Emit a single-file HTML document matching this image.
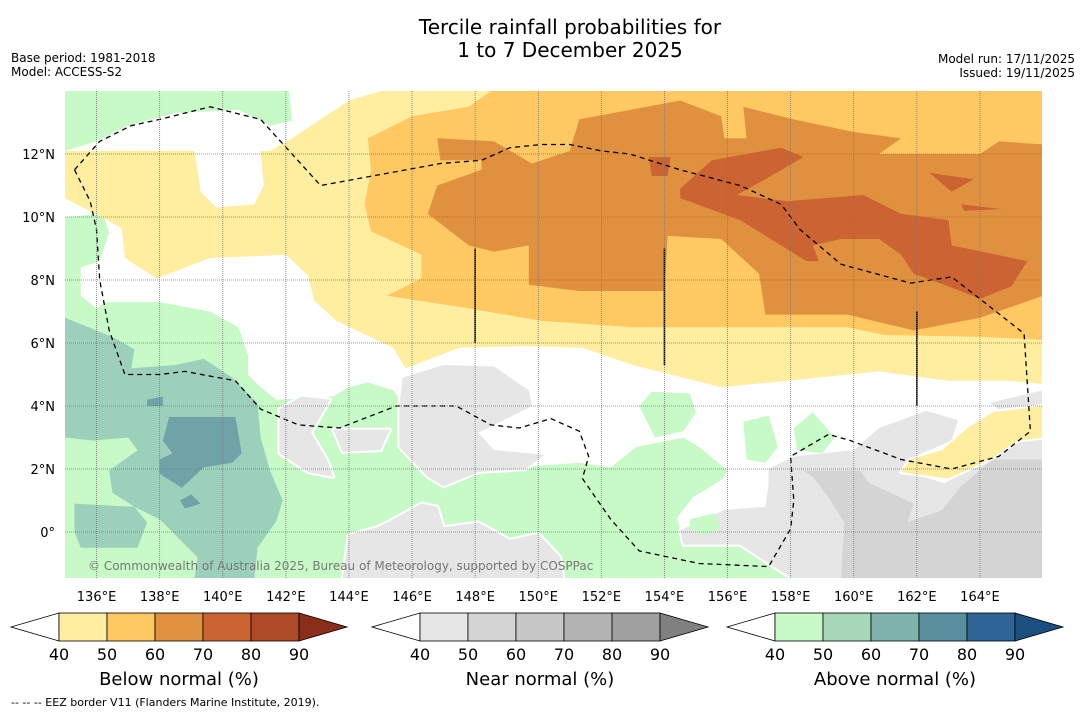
<!DOCTYPE html>
<html><head><meta charset="utf-8"><style>
body{margin:0;background:#fff;}
svg{display:block;font-family:"DejaVu Sans","Liberation Sans",sans-serif;}
</style></head><body>
<svg id="map" width="1085" height="713" viewBox="0 0 1085 713" xmlns="http://www.w3.org/2000/svg">
<rect width="1085" height="713" fill="#fff"/>
<text x="570" y="34" font-size="20" text-anchor="middle">Tercile rainfall probabilities for</text>
<text x="570" y="57" font-size="20" text-anchor="middle">1 to 7 December 2025</text>
<text x="11" y="62" font-size="12">Base period: 1981-2018</text>
<text x="11" y="76" font-size="12">Model: ACCESS-S2</text>
<text x="1075" y="63" font-size="12" text-anchor="end">Model run: 17/11/2025</text>
<text x="1075" y="77" font-size="12" text-anchor="end">Issued: 19/11/2025</text>
<defs><clipPath id="mc"><rect x="65" y="91" width="977" height="487"/></clipPath></defs>
<g id="layers" clip-path="url(#mc)"></g>
<g id="grid"></g>
<g id="labels"></g>
<text x="88" y="570" font-size="12" fill="#777">© Commonwealth of Australia 2025, Bureau of Meteorology, supported by COSPPac</text>
<g id="bars"></g>
<text x="11" y="706" font-size="11">--  --  -- EEZ border V11 (Flanders Marine Institute, 2019).</text>
</svg>
<script>
const lonTicks=[136,138,140,142,144,146,148,150,152,154,156,158,160,162,164];
const latTicks=[0,2,4,6,8,10,12];
const levels=[40,50,60,70,80,90];
const belowColors=["#ffeda0","#fec862","#e0913f","#cc6332","#ae4a25","#8a2e1a"];
const nearColors=["#e6e6e6","#d4d4d4","#c6c6c6","#b3b3b3","#a0a0a0","#808080"];
const aboveColors=["#c8fac8","#a6d7b8","#7fb4ae","#5a8fa0","#2e6496","#1a4f80"];
const mapTeal=["#9dd0bb","#6fa3a8"];
// regions as [lon,lat] polygons
const greenTop=[[135,14],[142.1,14],[142.2,13.05],[141.5,12.9],[140.5,13.4],[138.5,13.3],[137,12.9],[136,12.4],[135,12.1]];
const greenLow=[[135,10],[136.2,10.1],[136.4,9.5],[136.1,8.6],[135.5,8.4],[135.5,7.5],[136,7.1],[136.3,7.3],[138,7.3],[139.6,7],[140.5,6.5],[140.8,5.6],[140.8,5],[141.2,4.6],[141.7,4.2],[143.5,4.3],[144,4.6],[144.6,4.75],[145.4,4.5],[145.7,4.1],[145.6,2.7],[146.5,1.75],[147.7,1.95],[148.6,2.0],[151.3,2.2],[152.3,2.05],[153.1,2.7],[154.6,3.0],[155.1,2.7],[156,1.95],[155.8,1.65],[154.9,1.1],[154.4,0.45],[154.6,-0.35],[156.4,-0.35],[157.3,-0.95],[158.1,-1.5],[135,-1.5]];
const grayA=[[141.8,3.9],[142.5,4.3],[143.4,4.2],[142.8,3.15],[143.3,2.3],[143.5,1.75],[142.7,1.9],[141.8,2.5]];
const grayB=[[143.5,3.25],[145.3,3.25],[145,2.6],[143.8,2.55]];
const grayC=[[145.7,4.9],[147,5.3],[148.6,5.25],[149.7,4.5],[149.8,4.0],[148.1,3.15],[148.6,2.6],[150.2,2.45],[149.6,2.0],[148.1,1.9],[147,1.45],[146.5,1.75],[145.6,2.7],[145.6,4.0]];
const grayD=[[145.3,0.35],[146.3,0.9],[146.8,0.8],[147,0.15],[148.1,0.3],[149.1,-0.25],[150,-0.05],[150.7,-0.8],[150.8,-1.5],[143.8,-1.5],[144,-0.1],[144.9,0.15]];
const grayRight=[[157.3,2.0],[158.1,2.4],[160,2.6],[160.8,3.3],[162.3,3.85],[163.3,3.55],[163.1,2.9],[161.7,2.3],[161.5,1.95],[162.9,1.55],[164.4,2.7],[166,3.0],[166,-1.5],[158.1,-1.5],[157.3,-1.0],[156.4,-0.4],[154.6,-0.4],[154.5,0.05],[155.9,0.7],[157.2,0.8],[157.3,1.5]];
const grayRightUp=[[164.3,4.1],[166,4.5],[166,4.05],[164.6,3.9]];
const grayRightDark=[[158.4,1.95],[160.2,1.95],[160.5,1.55],[161.9,0.9],[161.7,0.3],[162.8,0.7],[163.4,1.45],[164.4,2.3],[166,2.3],[166,-1.5],[159.6,-1.5],[159.7,0.3],[159.2,1.1],[158.7,1.75]];
const greenP1=[[153.2,4.0],[153.6,4.45],[154.8,4.4],[155,3.8],[154.6,3.2],[153.7,3.0]];
const greenP2=[[156.5,3.5],[157.3,3.7],[157.6,2.7],[157.2,2.2],[156.6,2.3]];
const greenP3=[[158.1,3.3],[158.7,3.8],[159.4,3.0],[159,2.5],[158.2,2.6]];
const greenP4=[[154.8,0.4],[155.6,0.6],[155.8,0.1],[155.2,-0.1],[154.8,0.1]];
const tealLight=[[135,6.8],[136.5,6.2],[137.2,5.8],[137.1,5.2],[138.5,5.3],[139.4,5.5],[140.3,4.9],[141.1,4.1],[141.2,3.0],[141.5,1.95],[141.9,1.0],[141.7,0.35],[141.1,-0.5],[141,-1.5],[139.1,-1.5],[139.2,-0.8],[138,0.4],[137.2,0.8],[136.5,1.25],[136.4,1.95],[137.3,2.6],[137,3.0],[135.9,2.9],[135,3.0]];
const tealLow=[[135.3,0.9],[137.2,0.8],[137.6,0.3],[137.3,-0.5],[135.5,-0.5],[135.3,0]];
const tealDark=[[138.3,3.65],[140.4,3.65],[140.6,2.5],[140.3,2.2],[139.4,2.05],[138.7,1.4],[138,1.85],[138,2.3],[138.4,2.5],[138.1,2.9]];
const tealDark2=[[138.65,1.0],[139,1.2],[139.3,0.9],[138.8,0.75]];
const tealDark3=[[137.6,4.2],[138.1,4.3],[138.1,4.0],[137.6,4.0]];
const yellowBand=[[135,12.1],[141.5,12.1],[142.2,12.5],[144,13.7],[145,14],[166,14],[166,4.7],[164.9,4.8],[163,4.8],[160.8,5.1],[157.9,4.8],[155.8,4.6],[153,5.3],[151.4,5.85],[149.6,5.9],[147.5,5.85],[145.8,5.2],[145.4,5.85],[143.6,6.7],[142.9,7.35],[142.7,8.15],[142,8.8],[139.6,8.7],[137.9,8.05],[136.9,8.7],[136.8,9.65],[135,10.6]];
const whiteHoleYellow=[[139.1,12.1],[141.2,12.1],[141.3,11],[141,10.4],[139.8,10.3],[139.3,10.8]];
const yellowRight=[[161.5,1.9],[163,1.7],[164.3,2.3],[165.2,2.9],[166,3.0],[166,4.0],[164.4,3.8],[163.6,3.3],[162.8,2.6],[161.8,2.3]];
const orange=[[144.6,12.5],[146,13.2],[147.8,13.5],[148.5,14],[166,14],[166,6.1],[164,6.2],[161,6.25],[159.8,6.5],[157.2,6.5],[153,6.5],[150.1,6.7],[147.8,7.1],[145.2,7.5],[146.3,8.05],[146.3,8.8],[144.7,9.55],[144.5,10.4],[144.7,11.5]];
const darkOrange=[[146.8,12.5],[148.6,12.4],[149.8,11.7],[151,12.1],[151.3,13.1],[154.5,13.7],[155.8,13.2],[155.9,12.5],[156.6,12.5],[156.5,13.5],[158.1,13.1],[160,12.7],[161.5,12.5],[160.8,12],[164,12],[164.6,12.4],[166,12.3],[166,7.5],[164,6.8],[161.9,6.4],[159.8,6.9],[157.2,6.9],[157,8.2],[155.8,9.3],[154.1,9.4],[154,7.65],[151.3,7.65],[149.7,7.85],[149.7,9.1],[148.6,8.9],[147.8,9.1],[146.5,10.1],[146.8,11.0],[148.2,11.5],[148.2,11.8],[146.9,11.8]];
const redOrange=[[154.5,10.9],[155.5,11.8],[157.7,12.2],[158.4,11.9],[157.2,11.2],[156.3,10.7],[157.9,10.5],[160.3,10.7],[161.5,10.1],[163,9.9],[163.1,9.1],[165.5,8.6],[165,7.8],[164,7.4],[163,7.8],[161.9,8.2],[161.5,8.8],[160.8,9.3],[159.6,9.3],[158.7,9.1],[158.9,8.6],[158.5,8.6],[157.7,9.1],[156.4,9.9],[154.5,10.6]];
const redBlob2=[[162.4,11.4],[163.8,11.2],[163.1,10.8]];
const redBlob3=[[153.5,11.9],[154.2,11.9],[154.1,11.3],[153.6,11.3]];
const redBlob4=[[163.4,10.4],[164.7,10.25],[163.5,10.2]];
const eez=[[135.3,11.5],[136.1,12.4],[137.1,12.9],[138,13.1],[139.6,13.5],[141.2,13.1],[143.1,11],[146.9,11.7],[148.2,11.8],[149.1,12.2],[150.1,12.3],[151,12.3],[152,12.1],[152.9,12],[154.5,11.5],[156.4,11],[157.7,10.4],[158.3,9.6],[159.6,8.5],[161.8,7.9],[163.1,8.1],[164,7.4],[165.4,6.3],[165.6,3.2],[164.6,2.4],[163.1,2],[161.5,2.3],[159.9,2.9],[159.2,3.1],[158,2.4],[158.1,1],[158,0.1],[157.3,-1.1],[155.1,-1],[153.2,-0.6],[152.3,0.4],[151.4,1.7],[151.6,2.4],[151.3,3.2],[150.4,3.6],[149.4,3.3],[148.5,3.4],[147.4,4],[145.5,4],[143.7,3.3],[142.4,3.4],[141.2,3.9],[140.4,4.8],[138.8,5.1],[138,5],[136.9,5],[136.4,6.4],[136.1,8],[136,9.6],[135.8,10.5],[135.3,11.5]];
const boundaryLines=[[148,6,9],[154,5.3,9],[162,4,7]];

const X=lon=>65+(lon-135)*31.55;
const Y=lat=>91+(14-lat)*31.5;
const NS="http://www.w3.org/2000/svg";
function mk(tag,attrs,parent){const e=document.createElementNS(NS,tag);for(const k in attrs)e.setAttribute(k,attrs[k]);parent.appendChild(e);return e;}
const pts=a=>a.map(p=>X(p[0]).toFixed(1)+","+Y(p[1]).toFixed(1)).join(" ");
const L=document.getElementById("layers");
const order=[
 [greenTop,aboveColors[0],"green-top",0],[greenLow,aboveColors[0],"green-lower",0],
 [grayA,nearColors[0],"gray-area",1],[grayB,nearColors[0],"gray-area",1],[grayC,nearColors[0],"gray-area",1],[grayD,nearColors[0],"gray-area",1],
 [grayRight,nearColors[0],"gray-right",1],[grayRightUp,nearColors[0],"gray-right-upper",0],[grayRightDark,nearColors[1],"gray-right-dark",0],
 [greenP1,aboveColors[0],"green-patch",0],[greenP2,aboveColors[0],"green-patch",0],[greenP3,aboveColors[0],"green-patch",0],[greenP4,aboveColors[0],"green-patch",0],
 [tealLight,mapTeal[0],"teal-area",0],[tealLow,mapTeal[0],"teal-area",0],[tealDark,mapTeal[1],"teal-dark-area",0],[tealDark2,mapTeal[1],"teal-dark-area",0],[tealDark3,mapTeal[1],"teal-dark-area",0],
 [yellowBand,belowColors[0],"yellow-band",0],[whiteHoleYellow,"#fff","white-area",0],[yellowRight,belowColors[0],"yellow-right",1],
 [orange,belowColors[1],"orange-area",0],[darkOrange,belowColors[2],"dark-orange-area",0],
 [redOrange,belowColors[3],"red-orange-area",0],[redBlob2,belowColors[3],"red-orange-blob",0],[redBlob3,belowColors[3],"red-orange-blob",0],[redBlob4,belowColors[3],"red-orange-blob",0]];
order.forEach(o=>{
  const a={points:pts(o[0]),fill:o[1]};
  if(o[3]){a.stroke="#fff";a["stroke-width"]=4;a["stroke-linejoin"]="round";a["paint-order"]="stroke";}
  const p=mk("polygon",a,L);
  
  
});
boundaryLines.forEach(b=>{
  const l=mk("line",{x1:X(b[0]),x2:X(b[0]),y1:Y(b[1]),y2:Y(b[2]),stroke:"#000","stroke-width":1.5},L);
  
  
});
const e=mk("polyline",{points:pts(eez),fill:"none",stroke:"#000","stroke-width":1.3,"stroke-dasharray":"5,4"},L);


const G=document.getElementById("grid"),LB=document.getElementById("labels");
lonTicks.forEach(t=>{
  const l=mk("line",{x1:X(t),x2:X(t),y1:91,y2:578,stroke:"#777","stroke-width":0.8,"stroke-dasharray":"1,1"},G);
  
  
  const s=mk("text",{x:X(t),y:601,"font-size":13,"text-anchor":"middle"},LB);
  s.textContent=t+"°E";
  
  
});
latTicks.forEach(t=>{
  const l=mk("line",{x1:65,x2:1042,y1:Y(t),y2:Y(t),stroke:"#777","stroke-width":0.8,"stroke-dasharray":"1,1"},G);
  
  
  const s=mk("text",{x:55,y:Y(t)+5,"font-size":13,"text-anchor":"end"},LB);
  s.textContent=t===0?"0°":t+"°N";
  
  
});
const B=document.getElementById("bars");
function colorbar(x0,cols,title,name){
  const g=mk("g",{},B);
  
  
  const w=48,y0=613,h=28;
  mk("polygon",{points:`${x0},${y0+h/2} ${x0+w},${y0} ${x0+w},${y0+h}`,fill:"#fff",stroke:"#000","stroke-width":0.8},g);
  cols.slice(0,5).forEach((c,i)=>mk("rect",{x:x0+w*(i+1),y:y0,width:w,height:h,fill:c,stroke:"#000","stroke-width":0.8},g));
  const xe=x0+w*6;
  mk("polygon",{points:`${xe},${y0} ${xe+w},${y0+h/2} ${xe},${y0+h}`,fill:cols[5],stroke:"#000","stroke-width":0.8},g);
  levels.forEach((v,i)=>{const s=mk("text",{x:x0+w*(i+1),y:660,"font-size":16,"text-anchor":"middle"},g);s.textContent=v;});
  const t=mk("text",{x:x0+w*3.5,y:685,"font-size":18,"text-anchor":"middle"},g);t.textContent=title;
}
colorbar(11,belowColors,"Below normal (%)","below-normal-colorbar");
colorbar(372,nearColors,"Near normal (%)","near-normal-colorbar");
colorbar(727,aboveColors,"Above normal (%)","above-normal-colorbar");
</script>
</body></html>
